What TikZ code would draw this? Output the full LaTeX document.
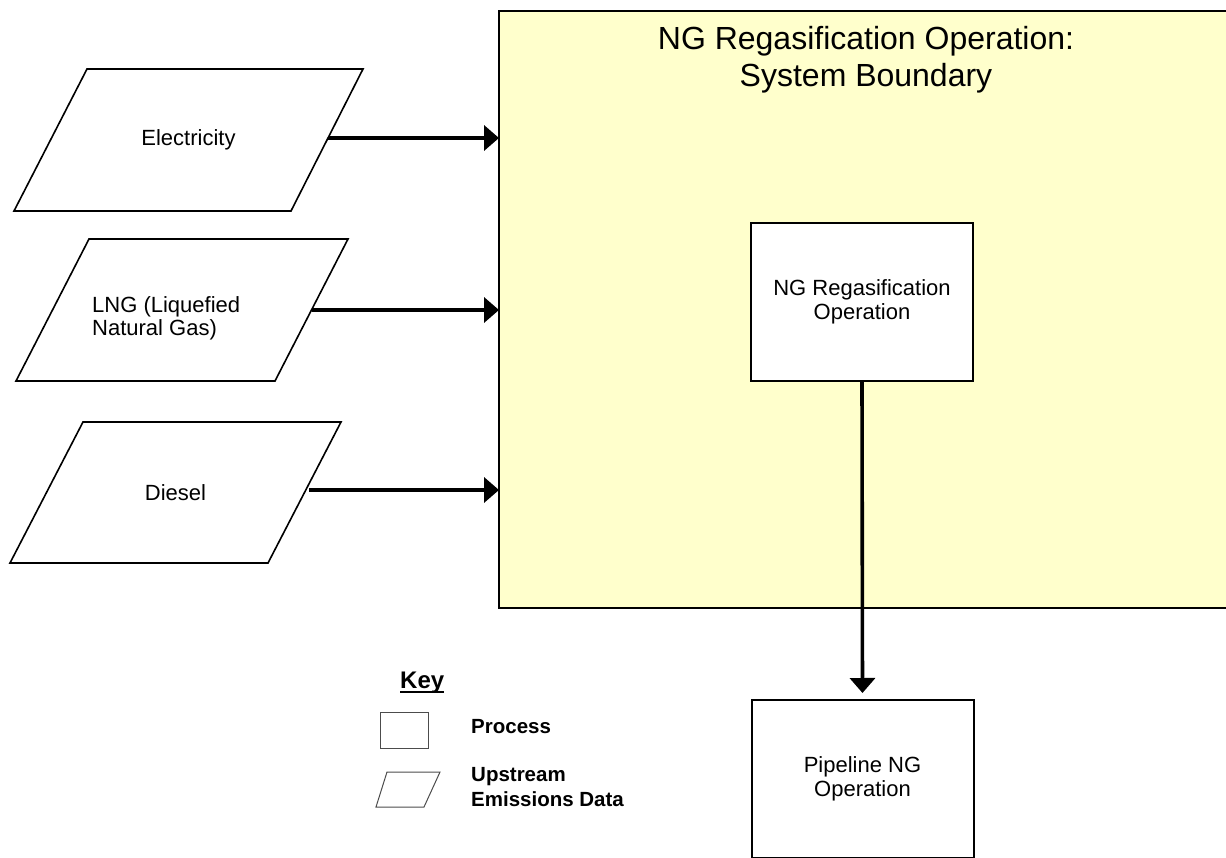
\documentclass[tikz,border=0pt]{standalone}
\usepackage{fontspec}
\setmainfont{Liberation Sans}
\usetikzlibrary{arrows.meta}
\definecolor{sysyellow}{HTML}{FFFFCC}
\begin{document}
\begin{tikzpicture}[x=1pt,y=-1pt,
  parashape/.style={draw=black, line width=1.6pt, fill=white, line join=miter},
  paratext/.style={inner sep=0pt, font=\fontsize{22}{24}\selectfont},
  proc/.style={rectangle, draw=black, line width=2pt, fill=white,
    minimum width=222pt, minimum height=158pt, inner sep=0pt, outer sep=0pt,
    align=center, font=\fontsize{22}{24}\selectfont},
  flow/.style={line width=3.6pt, -{Triangle[length=15pt,width=25pt]}},
  keytext/.style={inner sep=0pt, font=\fontsize{20.5}{25}\selectfont\bfseries},
]
\useasboundingbox (0,0) rectangle (1226,858);
% system boundary
\node[draw=black, line width=2pt, fill=sysyellow, minimum width=741pt,
  minimum height=597pt, inner sep=0pt, outer sep=0pt] (sys) at (869.5,309.5) {};
\node[anchor=north, inner sep=0pt, align=center,
  font=\fontsize{32}{37}\selectfont] (title) at (866,26)
  {NG Regasification Operation:\\System Boundary};
% inputs
\draw[parashape] (87,69) -- (363,69) -- (291,211) -- (14,211) -- cycle;
\node[paratext] (elec) at (188.5,140) {Electricity};
\coordinate (elecR) at (328,138);
\draw[parashape] (89,239) -- (348,239) -- (275,381) -- (16,381) -- cycle;
\node[paratext, anchor=north west, align=left,
  font=\fontsize{22}{23}\selectfont] (lng) at (92,296)
  {LNG (Liquefied\\Natural Gas)};
\coordinate (lngR) at (312,310);
\draw[parashape] (83,422) -- (341,422) -- (268,563) -- (10,563) -- cycle;
\node[paratext] (dies) at (175.5,492.5) {Diesel};
\coordinate (diesR) at (309,490);
\draw[flow] (elecR) -- (elecR -| sys.west);
\draw[flow] (lngR) -- (lngR -| sys.west);
\draw[flow] (diesR) -- (diesR -| sys.west);
% processes
\node[proc] (reg) at (862,302) {NG Regasification\\Operation};
\node[proc] (pipe) at (862.5,779) {Pipeline NG\\Operation};
\draw[flow, shorten >=7pt] (reg.south) -- (pipe.north);
% key
\node[anchor=base west, inner sep=0pt, font=\fontsize{24}{26}\selectfont\bfseries]
  (keyt) at (400,688) {Key};
\draw[line width=2.2pt] ([yshift=-4pt]keyt.base west) -- ([yshift=-4pt]keyt.base east);
\node[draw=black!70, line width=1pt, minimum width=48pt, minimum height=36pt,
  inner sep=0pt] (keyproc) at (404,730) {};
\draw[draw=black!70, line width=1pt] (387,772) -- (440,772) -- (424,807) -- (376,807) -- cycle;
\node[keytext, anchor=base west] (keyproct) at (471,733) {Process};
\node[keytext, anchor=north west, align=left] (keyparat) at (471,767.5)
  {Upstream\\Emissions Data};
\end{tikzpicture}
\end{document}
